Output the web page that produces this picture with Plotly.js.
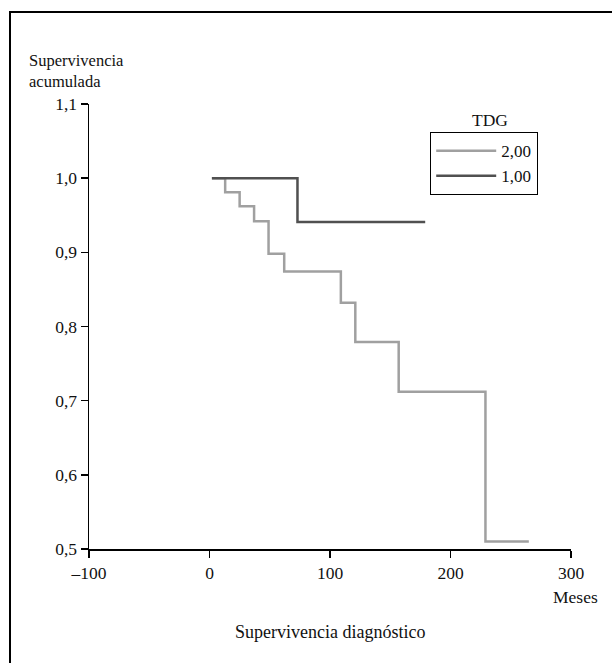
<!DOCTYPE html>
<html>
<head>
<meta charset="utf-8">
<script src="https://cdn.plot.ly/plotly-3.0.1.min.js"></script>
<style>
html,body{margin:0;padding:0;background:#fff;}
</style>
</head>
<body>
<div id="chart" style="width:612px;height:663px;"></div>
<script>
// Kaplan-Meier steps
var groupNames = ['2,00', '1,00'];
var months2 = [2, 13, 25, 37, 49, 62, 109, 121, 157, 229, 265];
var surv2   = [1.0, 0.981, 0.962, 0.942, 0.898, 0.874, 0.832, 0.779, 0.712, 0.510, 0.510];
var months1 = [2, 73, 179];
var surv1   = [1.0, 0.941, 0.941];
var xTicks = [-100, 0, 100, 200, 300];
var xTickText = ['\u2013100', '0', '100', '200', '300'];
var yTicks = [0.5, 0.6, 0.7, 0.8, 0.9, 1.0, 1.1];

var W = 612, H = 663, L = 89, R = 41, T = 104, B = 114;
var pw = W - L - R, ph = H - T - B;
function px(x){ return (x - L) / pw; }
function py(y){ return (H - B - y) / ph; }

var font = 'Liberation Serif';
var fs = 17.5;

var traces = [
  {x: months2, y: surv2, name: groupNames[0], mode: 'lines', line: {shape: 'hv', color: '#a0a0a0', width: 2.5}},
  {x: months1, y: surv1, name: groupNames[1], mode: 'lines', line: {shape: 'hv', color: '#505050', width: 2.5}}
];

var layout = {
  width: W, height: H,
  margin: {l: L, r: R, t: T, b: B, pad: 0},
  paper_bgcolor: '#fff', plot_bgcolor: '#fff',
  separators: ', ',
  font: {family: font, size: fs, color: '#111'},
  showlegend: true,
  legend: {
    x: px(430), y: py(132), xanchor: 'left', yanchor: 'top',
    bordercolor: '#000', borderwidth: 1.2, bgcolor: '#fff',
    font: {family: font, size: 17, color: '#111'},
    tracegroupgap: 0, itemwidth: 60
  },
  xaxis: {
    range: [-100, 300], tickvals: xTicks, ticktext: xTickText,
    ticks: 'outside', ticklen: 7, tickwidth: 1.5, tickcolor: '#000',
    showline: true, linecolor: '#000', linewidth: 1.5,
    showgrid: false, zeroline: false, fixedrange: true,
    tickfont: {family: font, size: fs, color: '#111'}
  },
  yaxis: {
    range: [0.5, 1.1], tickvals: yTicks, tickformat: '.1f',
    ticks: 'outside', ticklen: 7, tickwidth: 1.5, tickcolor: '#000',
    showline: true, linecolor: '#000', linewidth: 1.5,
    showgrid: false, zeroline: false, fixedrange: true,
    tickfont: {family: font, size: fs, color: '#111'}
  },
  shapes: [
    {type: 'path', xref: 'paper', yref: 'paper',
     path: 'M ' + px(10) + ' ' + py(700) + ' L ' + px(10) + ' ' + py(12) + ' L ' + px(700) + ' ' + py(12),
     line: {color: '#000', width: 2}}
  ],
  annotations: [
    {xref: 'paper', yref: 'paper', x: px(27), y: py(49), xanchor: 'left', yanchor: 'top',
     text: 'Supervivencia<br>acumulada', showarrow: false, align: 'left',
     font: {family: font, size: 16.5, color: '#111'}},
    {xref: 'paper', yref: 'paper', x: px(490), y: py(120), xanchor: 'center', yanchor: 'middle',
     text: 'TDG', showarrow: false, font: {family: font, size: fs, color: '#111'}},
    {xref: 'paper', yref: 'paper', x: px(600), y: py(597), xanchor: 'right', yanchor: 'middle',
     text: 'Meses', showarrow: false, font: {family: font, size: fs, color: '#111'}},
    {xref: 'paper', yref: 'paper', x: px(330), y: py(632), xanchor: 'center', yanchor: 'middle',
     text: 'Supervivencia diagnóstico', showarrow: false, font: {family: font, size: 18, color: '#111'}}
  ]
};

Plotly.newPlot('chart', traces, layout, {displayModeBar: false, staticPlot: true});
</script>
</body>
</html>
